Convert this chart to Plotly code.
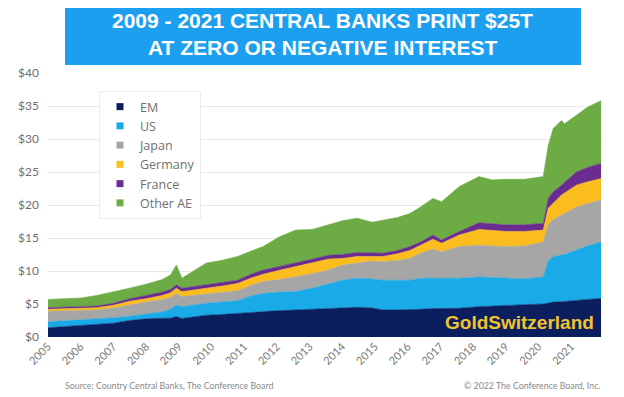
import plotly.graph_objects as go

# ---- data (USD trillions) ----
dates = [
    "2005-01-01", "2005-07-01", "2006-01-01", "2006-07-01", "2007-01-01", "2007-07-01",
    "2008-01-01", "2008-07-01", "2008-10-01", "2008-12-05", "2009-02-05", "2009-05-20",
    "2009-11-05", "2010-04-20", "2010-10-20", "2011-03-15", "2011-08-01", "2012-02-01",
    "2012-08-01", "2013-02-01", "2013-08-01", "2014-01-01", "2014-06-15", "2014-12-01",
    "2015-04-01", "2015-09-10", "2016-01-25", "2016-05-25", "2016-10-10", "2017-01-15",
    "2017-08-01", "2018-03-10", "2018-08-05", "2019-01-01", "2019-08-01", "2020-02-25",
    "2020-04-20", "2020-06-15", "2020-09-15", "2020-10-20", "2021-03-01", "2021-07-01",
    "2021-12-01",
]
em = [1.4, 1.55, 1.7, 1.85, 2.1, 2.5, 2.75, 2.85, 2.85, 3.1, 2.8, 3.0, 3.3, 3.4, 3.6,
      3.7, 3.8, 4.0, 4.1, 4.2, 4.35, 4.45, 4.5, 4.4, 4.1, 4.1, 4.1, 4.2, 4.3, 4.3, 4.35,
      4.6, 4.7, 4.85, 4.9, 5.0, 5.1, 5.3, 5.35, 5.4, 5.6, 5.7, 5.85]
us = [0.9, 0.9, 0.9, 0.85, 0.8, 0.65, 0.7, 0.95, 1.35, 1.75, 1.8, 1.8, 1.8, 1.9, 1.9,
      2.5, 2.8, 2.8, 2.8, 3.2, 3.75, 4.15, 4.4, 4.4, 4.5, 4.5, 4.5, 4.7, 4.6, 4.6, 4.55,
      4.5, 4.3, 4.05, 3.9, 4.1, 6.4, 6.9, 7.05, 7.1, 7.6, 8.1, 8.55]
japan = [1.6, 1.5, 1.4, 1.4, 1.5, 1.75, 1.85, 1.9, 1.8, 1.75, 1.5, 1.5, 1.4, 1.4, 1.5,
         1.6, 1.8, 1.9, 2.2, 2.2, 2.05, 2.3, 2.3, 2.7, 2.8, 3.0, 3.3, 3.8, 4.4, 4.0, 4.8,
         4.8, 4.8, 4.8, 5.0, 5.3, 5.5, 5.6, 6.1, 6.2, 6.5, 6.4, 6.4]
germany = [0.3, 0.3, 0.3, 0.35, 0.4, 0.5, 0.5, 0.6, 0.7, 0.8, 0.75, 0.8, 0.9, 1.0, 1.1,
           1.1, 1.1, 1.4, 1.55, 1.6, 1.65, 1.0, 1.0, 0.7, 0.8, 1.0, 1.2, 1.2, 1.5, 1.3, 1.75,
           2.4, 2.3, 2.3, 2.2, 1.8, 2.5, 2.5, 3.0, 3.1, 3.3, 3.3, 3.2]
france = [0.25, 0.25, 0.25, 0.25, 0.3, 0.4, 0.5, 0.5, 0.5, 0.5, 0.55, 0.5, 0.5, 0.5, 0.5,
          0.6, 0.65, 0.6, 0.55, 0.6, 0.6, 0.6, 0.6, 0.55, 0.5, 0.5, 0.6, 0.5, 0.65, 0.5, 0.55,
          1.0, 1.0, 1.0, 1.0, 1.0, 1.5, 1.7, 1.5, 1.6, 2.0, 2.2, 2.3]
other_ae = [1.25, 1.3, 1.35, 1.6, 1.7, 1.6, 1.7, 1.9, 2.2, 3.0, 1.5, 2.2, 3.3, 3.4, 3.6,
            3.5, 3.55, 4.5, 5.0, 4.5, 4.6, 5.1, 5.2, 4.65, 5.0, 5.0, 5.0, 5.3, 5.55, 5.8, 6.8,
            7.0, 6.7, 6.9, 6.9, 7.1, 8.0, 9.6, 9.8, 8.9, 8.6, 9.1, 9.5]

series_names = ["EM", "US", "Japan", "Germany", "France", "Other AE"]
series_colors = ["#0b1f5e", "#1aaae8", "#a6a6a6", "#fbbd1e", "#6a2c91", "#6dab45"]
series_values = [em, us, japan, germany, france, other_ae]

year_ticks = [str(y) for y in range(2005, 2022)]
y_ticks = [0, 5, 10, 15, 20, 25, 30, 35, 40]

fig = go.Figure()
for name, vals, col in zip(series_names, series_values, series_colors):
    fig.add_trace(go.Scatter(
        x=dates, y=vals, name=name, stackgroup="one", mode="lines",
        line=dict(width=0.6, color=col), fillcolor=col,
        showlegend=False, hoverinfo="skip"))
# legend entries (square swatches)
for name, col in zip(series_names, series_colors):
    fig.add_trace(go.Scatter(
        x=[None], y=[None], mode="markers", name=name,
        marker=dict(symbol="square", size=7, color=col)))

# page body has an 8px margin: work in window pixels, shifted by OFF
OFF = 8
W, H = 624, 397
PL, PR, PT, PB = 48, 602, 73, 337          # plot box in window pixels
L, R, T, B = PL - OFF, W - (PR - OFF), PT - OFF, H - (PB - OFF)
pw, ph = PR - PL, PB - PT


def px(x):
    return (x - PL) / pw


def py(y):
    return (PB - y) / ph


fig.update_layout(
    width=W, height=H,
    margin=dict(l=L, r=R, t=T, b=B, autoexpand=False),
    paper_bgcolor="white", plot_bgcolor="white",
    font=dict(family="Lato, Open Sans, sans-serif", color="#6f6f6f"),
    showlegend=True,
    legend=dict(
        x=px(99), y=py(91), xanchor="left", yanchor="top",
        bgcolor="white", bordercolor="#ececec", borderwidth=1,
        font=dict(family="Open Sans, Lato, sans-serif", size=12.5, color="#6f6f6f"),
        traceorder="normal", itemwidth=30, tracegroupgap=0),
    xaxis=dict(
        type="date", range=["2005-01-01", "2021-12-12"],
        tickvals=[y + "-01-01" for y in year_ticks], ticktext=year_ticks,
        tickangle=-45, showgrid=False, zeroline=False, showline=False,
        ticks="", tickfont=dict(size=11, color="#7a7a7a")),
    yaxis=dict(
        range=[0, 40], tickvals=y_ticks, ticktext=["$" + str(v) for v in y_ticks],
        showgrid=True, gridcolor="#e9e9e9", gridwidth=1, zeroline=False,
        showline=False, ticks="", ticklabelstandoff=8,
        tickfont=dict(size=12, color="#6f6f6f")),
    shapes=[dict(
        type="rect", xref="paper", yref="paper",
        x0=px(65), x1=px(581), y0=py(65), y1=py(2),
        fillcolor="#1d9ff0", line=dict(width=0), layer="above")],
    annotations=[
        dict(text="2009 - 2021 CENTRAL BANKS PRINT $25T", xref="paper", yref="paper",
             x=px(322), y=py(21), xanchor="center", yanchor="middle", showarrow=False,
             font=dict(family="Liberation Sans, Arial, sans-serif", size=21, color="white",
                       weight="bold")),
        dict(text="AT ZERO OR NEGATIVE INTEREST", xref="paper", yref="paper",
             x=px(322), y=py(47), xanchor="center", yanchor="middle", showarrow=False,
             font=dict(family="Liberation Sans, Arial, sans-serif", size=21, color="white",
                       weight="bold")),
        dict(text="GoldSwitzerland", xref="paper", yref="paper",
             x=px(596), y=py(322), xanchor="right", yanchor="middle", showarrow=False,
             font=dict(family="Liberation Sans, Arial, sans-serif", size=19, color="#f2c230",
                       weight="bold")),
        dict(text="Source: Country Central Banks, The Conference Board", xref="paper",
             yref="paper", x=px(63), y=py(385), xanchor="left", yanchor="middle",
             showarrow=False, font=dict(size=8.8, color="#8a8a8a")),
        dict(text="© 2022 The Conference Board, Inc.", xref="paper",
             yref="paper", x=px(602), y=py(385), xanchor="right", yanchor="middle",
             showarrow=False, font=dict(size=8.8, color="#8a8a8a")),
    ],
)

fig.write_html("out.html")
